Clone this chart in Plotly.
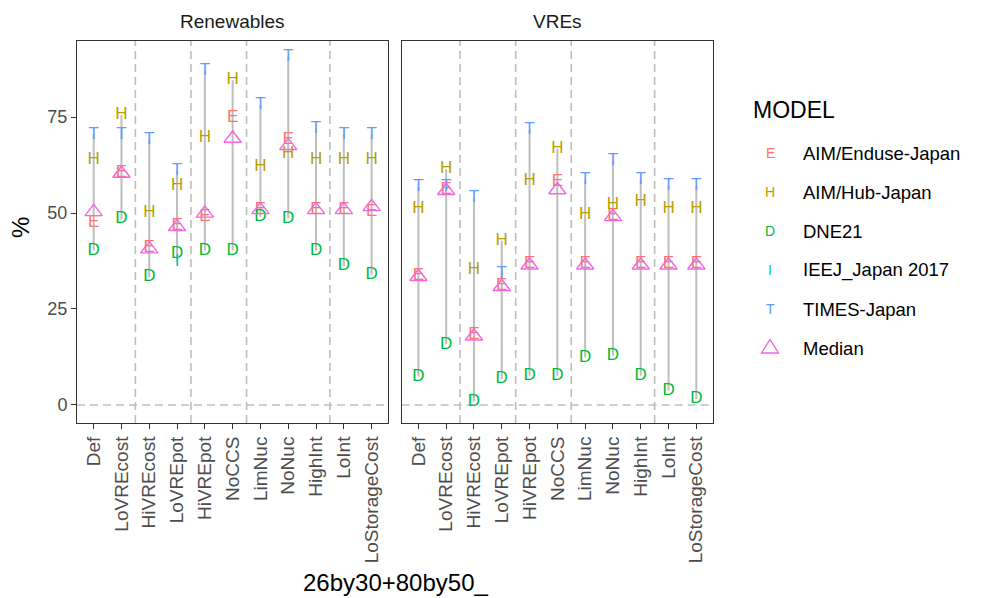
import plotly.graph_objects as go

# ---------------- data ----------------
categories = ["Def", "LoVREcost", "HiVREcost", "LoVREpot", "HiVREpot", "NoCCS",
              "LimNuc", "NoNuc", "HighInt", "LoInt", "LoStorageCost"]
panel_titles = ["Renewables", "VREs"]

# Renewables panel (%)
ren_E = [47.5, 60.5, 40.9, 46.6, 49.0, 74.7, 50.8, 69.0, 50.8, 50.8, 50.3]
ren_H = [64.0, 75.5, 50.1, 57.0, 69.7, 84.6, 62.1, 65.5, 64.0, 64.0, 64.0]
ren_D = [40.2, 48.4, 33.3, 39.3, 40.2, 40.2, 49.0, 48.6, 40.2, 36.2, 33.9]
ren_I = [None, None, None, 37.3, None, None, None, None, None, None, None]
ren_T = [70.5, 70.5, 69.0, 61.0, 87.0, None, 78.1, 90.7, 72.0, 70.5, 70.5]
ren_median = [50.3, 60.3, 40.6, 46.4, 49.9, 69.4, 50.8, 67.5, 50.8, 50.8, 51.6]

# VREs panel (%)
vre_E = [33.6, 56.0, 18.2, 31.0, 36.7, 58.2, 36.7, 49.2, 36.7, 36.7, 36.7]
vre_H = [51.0, 61.4, 35.2, 42.8, 58.4, 66.8, 49.5, 52.1, 52.9, 51.0, 51.0]
vre_D = [7.4, 15.8, 0.9, 6.7, 7.6, 7.6, 12.4, 12.8, 7.6, 3.7, 1.5]
vre_I = [None] * 11
vre_T = [56.8, 56.8, 54.0, 34.1, 71.7, None, 58.7, 63.6, 58.7, 57.0, 57.0]
vre_median = [33.4, 55.8, 17.9, 30.8, 36.4, 56.0, 36.4, 49.0, 36.4, 36.4, 36.4]

models = ["AIM/Enduse-Japan", "AIM/Hub-Japan", "DNE21", "IEEJ_Japan 2017", "TIMES-Japan"]
model_letters = ["E", "H", "D", "I", "T"]
model_colors = ["#F8766D", "#B79F00", "#00BA38", "#00BFC4", "#619CFF"]
median_color = "#F564E3"

separators = [1.5, 3.5, 5.5, 8.5]   # scenario-group boundaries
x_title = "26by30+80by50_"
y_ticks = [0, 25, 50, 75]

# ---------------- figure ----------------
FONT = "Liberation Sans, Arial, sans-serif"
fig = go.Figure()

panels = [
    ("x", "y", [ren_E, ren_H, ren_D, ren_I, ren_T], ren_median),
    ("x2", "y2", [vre_E, vre_H, vre_D, vre_I, vre_T], vre_median),
]

for xa, ya, series, med in panels:
    # range line per scenario (min..max over models)
    lx, ly = [], []
    for i, c in enumerate(categories):
        vals = [s[i] for s in series if s[i] is not None]
        lx += [c, c, None]
        ly += [min(vals), max(vals), None]
    fig.add_trace(go.Scatter(x=lx, y=ly, xaxis=xa, yaxis=ya, mode="lines",
                             line=dict(color="#BEBEBE", width=2),
                             hoverinfo="skip", showlegend=False))
    # model letters
    for s, letter, col in zip(series, model_letters, model_colors):
        xs = [c for c, v in zip(categories, s) if v is not None]
        ys = [v for v in s if v is not None]
        if not xs:
            continue
        fig.add_trace(go.Scatter(x=xs, y=ys, xaxis=xa, yaxis=ya, mode="text",
                                 text=[letter] * len(xs),
                                 textfont=dict(family=FONT, size=17, color=col),
                                 showlegend=False))
    # median triangles
    fig.add_trace(go.Scatter(x=categories, y=med, xaxis=xa, yaxis=ya, mode="markers",
                             marker=dict(symbol="triangle-up-open", size=15,
                                         color=median_color,
                                         line=dict(width=1.4, color=median_color)),
                             showlegend=False))

# layout geometry (page body has an 8px margin; coordinates below are window pixels)
OFF = 8
WIN_W, WIN_H = 986, 598
W, H = WIN_W - OFF, WIN_H - OFF
L = 77 - OFF
T = 41 - OFF
R = WIN_W - 713
B = WIN_H - 423
pw = W - L - R
ph = H - T - B
d1 = [0, (388.3 - 77) / pw]
d2 = [(401.7 - 77) / pw, 1]

axis_common = dict(showline=True, linecolor="#333333", linewidth=1, mirror=True,
                   showgrid=False, zeroline=False)
xax = dict(axis_common, type="category", categoryorder="array", categoryarray=categories,
           range=[-0.6, len(categories) - 0.4], ticks="outside", ticklen=5,
           tickcolor="#333333", tickangle=-90,
           tickfont=dict(family=FONT, size=19, color="#4D4D4D"))

shapes = []
for xa, ya in [("x", "y"), ("x2", "y2")]:
    for s in separators:
        shapes.append(dict(type="line", xref=xa, yref=ya + " domain", x0=s, x1=s, y0=0, y1=1,
                           line=dict(color="#BEBEBE", width=1.6, dash="8px,5px"), layer="below"))
    shapes.append(dict(type="line", xref=xa + " domain", yref=ya, x0=0, x1=1, y0=0, y1=0,
                       line=dict(color="#BEBEBE", width=1.6, dash="8px,5px"), layer="below"))

def px2paper_x(px):
    return (px - 77) / pw

def py2paper_y(py):
    return (423 - py) / ph

annotations = []
# strip titles
for title, dom in zip(panel_titles, [d1, d2]):
    annotations.append(dict(text=title, xref="paper", yref="paper", x=(dom[0] + dom[1]) / 2,
                            y=py2paper_y(21), showarrow=False, xanchor="center", yanchor="middle",
                            font=dict(family=FONT, size=19, color="#1A1A1A")))
# axis titles
annotations.append(dict(text=x_title, xref="paper", yref="paper", x=px2paper_x(395),
                        y=py2paper_y(582), showarrow=False, xanchor="center", yanchor="middle",
                        font=dict(family=FONT, size=24, color="black")))
annotations.append(dict(text="%", xref="paper", yref="paper", x=px2paper_x(20),
                        y=py2paper_y(228), showarrow=False, xanchor="center", yanchor="middle",
                        textangle=-90, font=dict(family=FONT, size=24, color="black")))
# legend
annotations.append(dict(text="MODEL", xref="paper", yref="paper", x=px2paper_x(751),
                        y=py2paper_y(110), showarrow=False, xanchor="left", yanchor="middle",
                        font=dict(family=FONT, size=23, color="black")))
row_y = [153, 192, 231, 270, 309]
for name, letter, col, ry in zip(models, model_letters, model_colors, row_y):
    annotations.append(dict(text=letter, xref="paper", yref="paper", x=px2paper_x(770),
                            y=py2paper_y(ry), showarrow=False, xanchor="center", yanchor="middle",
                            font=dict(family=FONT, size=14, color=col)))
    annotations.append(dict(text=name, xref="paper", yref="paper", x=px2paper_x(801),
                            y=py2paper_y(ry), showarrow=False, xanchor="left", yanchor="middle",
                            font=dict(family=FONT, size=18.5, color="black")))
annotations.append(dict(text="Median", xref="paper", yref="paper", x=px2paper_x(801),
                        y=py2paper_y(348), showarrow=False, xanchor="left", yanchor="middle",
                        font=dict(family=FONT, size=18.5, color="black")))
# legend triangle for median
tx0, tx1, tyb, tyt = px2paper_x(761.5), px2paper_x(778.5), py2paper_y(353), py2paper_y(339.5)
shapes.append(dict(type="path", xref="paper", yref="paper",
                   path=f"M {tx0} {tyb} L {tx1} {tyb} L {(tx0 + tx1) / 2} {tyt} Z",
                   line=dict(color=median_color, width=1.4), fillcolor="rgba(0,0,0,0)"))

fig.update_layout(
    width=W, height=H,
    margin=dict(l=L, r=R, t=T, b=B, autoexpand=False),
    paper_bgcolor="white", plot_bgcolor="white",
    showlegend=False,
    xaxis=dict(xax, domain=d1, anchor="y"),
    xaxis2=dict(xax, domain=d2, anchor="y2"),
    yaxis=dict(axis_common, range=[-4.7, 94.8], tickvals=y_ticks, ticks="outside", ticklen=5,
               tickcolor="#333333", tickfont=dict(family=FONT, size=18, color="#4D4D4D"),
               anchor="x", domain=[0, 1]),
    yaxis2=dict(axis_common, range=[-4.7, 94.8], matches="y", showticklabels=False, ticks="",
                anchor="x2", domain=[0, 1]),
    shapes=shapes,
    annotations=annotations,
)

fig.write_html("out.html")
